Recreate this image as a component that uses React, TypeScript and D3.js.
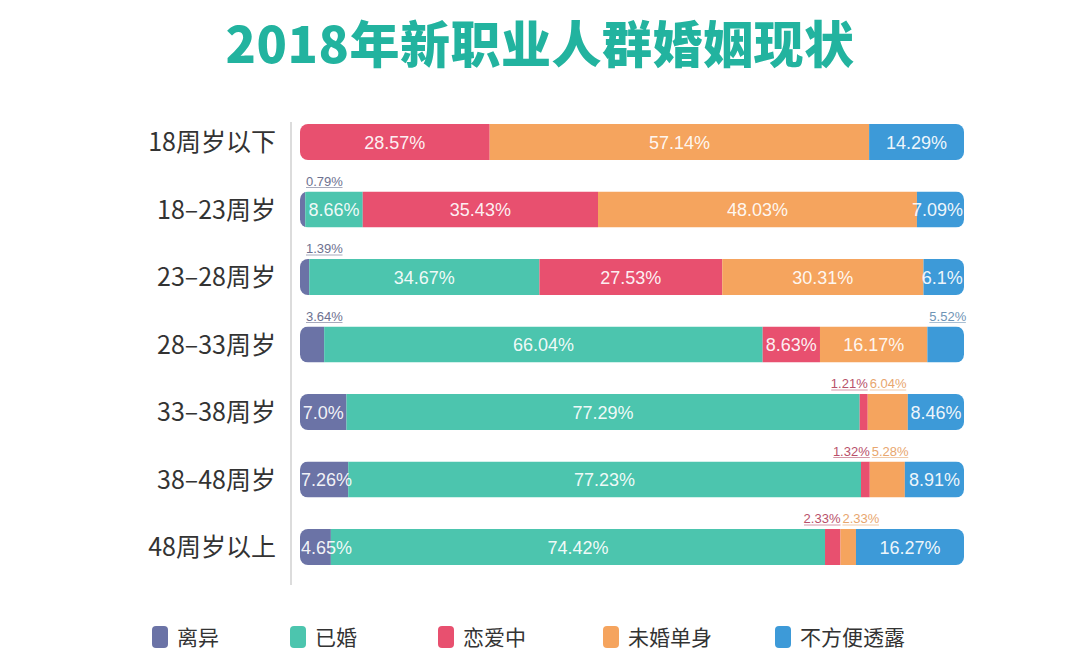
import React from 'react';
import * as d3 from 'd3';

const rows = ['18周岁以下', '18-23周岁', '23-28周岁', '28-33周岁', '33-38周岁', '38-48周岁', '48周岁以上'];
const seriesNames = ['离异', '已婚', '恋爱中', '未婚单身', '不方便透露'];
const seriesColors = ['#6b73a6', '#4cc5ae', '#e8506f', '#f5a45e', '#3d9ad8'];
const labelColors = ['#6d7190', '#3aa493', '#b8506a', '#e8a66e', '#6f95b6'];

const divorced = [0, 0.79, 1.39, 3.64, 7.0, 7.26, 4.65];
const married = [0, 8.66, 34.67, 66.04, 77.29, 77.23, 74.42];
const dating = [28.57, 35.43, 27.53, 8.63, 1.21, 1.32, 2.33];
const single = [57.14, 48.03, 30.31, 16.17, 6.04, 5.28, 2.33];
const undisclosed = [14.29, 7.09, 6.1, 5.52, 8.46, 8.91, 16.27];
const valueLabels = [
  ['', '', '28.57%', '57.14%', '14.29%'],
  ['0.79%', '8.66%', '35.43%', '48.03%', '7.09%'],
  ['1.39%', '34.67%', '27.53%', '30.31%', '6.1%'],
  ['3.64%', '66.04%', '8.63%', '16.17%', '5.52%'],
  ['7.0%', '77.29%', '1.21%', '6.04%', '8.46%'],
  ['7.26%', '77.23%', '1.32%', '5.28%', '8.91%'],
  ['4.65%', '74.42%', '2.33%', '2.33%', '16.27%'],
];
// label sits above the bar instead of inside
const outside = [
  [false, false, false, false, false],
  [true, false, false, false, false],
  [true, false, false, false, false],
  [true, false, false, false, true],
  [false, false, true, true, false],
  [false, false, true, true, false],
  [false, false, true, true, false],
];

const series = [divorced, married, dating, single, undisclosed];

export default function App() {
  const W = 1080, H = 669;
  const x = d3.scaleLinear().domain([0, 100]).range([300, 964]);
  const y = d3.scalePoint<string>().domain(rows).range([142, 547]);
  const barH = 36;

  const legendX = [152, 290, 438, 603, 775];

  return (
    <svg width={W} height={H} style={{ position: 'absolute', left: 0, top: 0, background: '#fff' }}>
      <defs>
        {rows.map((r, i) => (
          <clipPath id={`row-clip-${i}`} key={r}>
            <rect x={x(0)} y={y(r)! - barH / 2} width={x(100) - x(0)} height={barH} rx={8} />
          </clipPath>
        ))}
      </defs>

      <text x={540} y={63} textAnchor="middle" fill="#22b39f"
        style={{ fontFamily: '"Noto Sans CJK SC", sans-serif', fontWeight: 900, fontSize: 50, letterSpacing: 0.5 }}>
        2018年新职业人群婚姻现状
      </text>

      <line x1={291} x2={291} y1={122} y2={585} stroke="#dcdcdc" strokeWidth={2} />

      {rows.map((r, i) => {
        const cy = y(r)!;
        let acc = 0;
        const segs = series.map((s, k) => {
          const x0 = acc;
          acc += s[i];
          return { k, x0, x1: acc, v: s[i] };
        });
        return (
          <g key={r}>
            <text x={276} y={cy + 9} textAnchor="end" fill="#333"
              style={{ fontFamily: '"Noto Sans CJK SC", sans-serif', fontSize: 25 }}>
              {r.replace('-', '–')}
            </text>
            <g clipPath={`url(#row-clip-${i})`}>
              {segs.filter(d => d.v > 0).map(d => (
                <rect key={d.k} x={x(d.x0)} y={cy - barH / 2} width={x(d.x1) - x(d.x0)} height={barH}
                  fill={seriesColors[d.k]} />
              ))}
            </g>
            {segs.filter(d => d.v > 0).map(d => {
              const label = valueLabels[i][d.k];
              if (!outside[i][d.k]) {
                const tw = label.length * 9.4;
                let cx = (x(d.x0) + x(d.x1)) / 2;
                cx = Math.max(cx, x(d.x0) + 3 + tw / 2);
                cx = Math.min(cx, x(100) - 3 - tw / 2);
                return (
                  <text key={d.k} x={cx} y={cy + 6.5} textAnchor="middle" fill="#fff"
                    fillOpacity={0.93}
                    style={{ fontFamily: '"Liberation Sans", Arial, sans-serif', fontSize: 18 }}>
                    {label}
                  </text>
                );
              }
              const anchorEnd = d.k === 2;
              const tx = anchorEnd ? x(d.x1) : x(d.x0) + (d.k === 0 ? 6 : 2);
              const tw = label.length * 7.3;
              const ty = cy - barH / 2 - 6;
              return (
                <g key={d.k}>
                  <text x={tx} y={ty} textAnchor={anchorEnd ? 'end' : 'start'} fill={labelColors[d.k]}
                    style={{ fontFamily: '"Liberation Sans", Arial, sans-serif', fontSize: 13 }}>
                    {label}
                  </text>
                  <line x1={anchorEnd ? tx - tw : tx} x2={anchorEnd ? tx : tx + tw} y1={ty + 2} y2={ty + 2}
                    stroke={labelColors[d.k]} strokeOpacity={0.6} strokeWidth={1} />
                </g>
              );
            })}
          </g>
        );
      })}

      {seriesNames.map((n, k) => (
        <g key={n}>
          <rect x={legendX[k]} y={626} width={16} height={22} rx={4} fill={seriesColors[k]} />
          <text x={legendX[k] + 25} y={645} fill="#333"
            style={{ fontFamily: '"Noto Sans CJK SC", sans-serif', fontSize: 21 }}>
            {n}
          </text>
        </g>
      ))}
    </svg>
  );
}
